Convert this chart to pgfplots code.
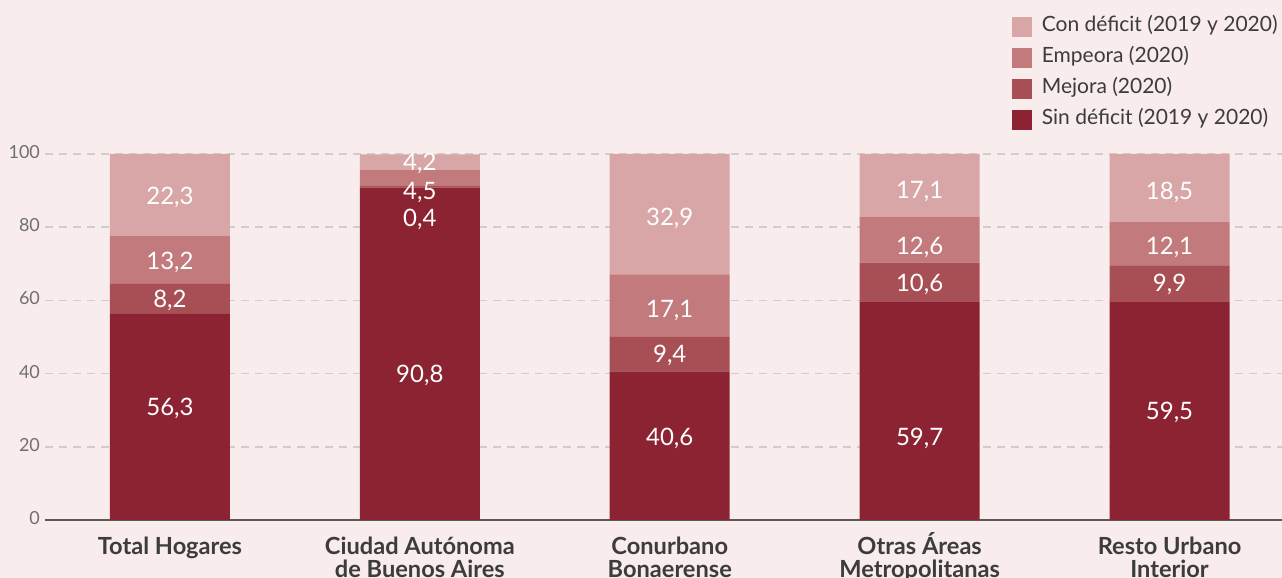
\documentclass[border=0pt]{standalone}
\usepackage{fontspec}
\setmainfont{Lato}
\usepackage{pgfplots}
\pgfplotsset{compat=1.18}
\definecolor{bg}{HTML}{F8ECEC}
\definecolor{sin}{HTML}{8B2332}
\definecolor{mej}{HTML}{A74F55}
\definecolor{emp}{HTML}{C27A7C}
\definecolor{con}{HTML}{D9A6A8}
\definecolor{txt}{HTML}{3C3C3C}
\definecolor{tickc}{HTML}{707070}
\definecolor{gridc}{HTML}{D2CDCD}
\tikzset{lbl/.style={text=white, font=\fontsize{12}{14}\selectfont}}
\newcommand{\xl}{\rule{0pt}{11.5pt}}

\begin{document}
\begin{tikzpicture}
\path[use as bounding box, fill=bg] (-22.5pt,-29pt) rectangle (618.5pt,260pt);
\begin{axis}[
    scale only axis, width=618.5pt, height=183pt,
    at={(0pt,0pt)}, anchor=south west,
    ybar stacked, bar width=60pt,
    xmin=-0.5, xmax=4.45, ymin=0, ymax=100,
    xtick=data,
    xticklabels={\xl Total Hogares, \xl Ciudad Autónoma\\de Buenos Aires, \xl Conurbano\\Bonaerense, \xl Otras Áreas\\Metropolitanas, \xl Resto Urbano\\Interior},
    x tick label style={align=center, font=\fontsize{11.8}{11.5}\selectfont\bfseries, text=txt, yshift=-2pt},
    ytick={0,20,...,100},
    y tick label style={font=\fontsize{9}{10}\selectfont, text=tickc, xshift=1pt, yshift=1pt},
    /pgf/number format/assume math mode=true,
    major tick length=0pt,
    axis x line*=bottom, axis y line*=left,
    x axis line style={draw=txt!85, line width=1pt},
    y axis line style={draw=none},
    ymajorgrids, grid style={gridc, line width=0.8pt, dash pattern=on 4pt off 3pt},
    legend style={at={(1,1)}, anchor=south east, yshift=9pt, xshift=2pt,
        draw=none, fill=none, font=\fontsize{10.5}{12}\selectfont, text=txt,
        row sep=3.5pt, nodes={inner sep=1pt, text height=7.5pt, text depth=2.5pt},
        /tikz/every odd column/.append style={column sep=4pt}},
    legend cell align=left, reverse legend,
    legend image code/.code={\path[#1, draw=none] (0pt,-5pt) rectangle (10pt,5pt);},
]
\addplot[fill=sin, draw=none] coordinates {(0,56.3) (1,90.8) (2,40.6) (3,59.7) (4,59.5)};
\addplot[fill=mej, draw=none] coordinates {(0,8.2) (1,0.4) (2,9.4) (3,10.6) (4,9.9)};
\addplot[fill=emp, draw=none] coordinates {(0,13.2) (1,4.5) (2,17.1) (3,12.6) (4,12.1)};
\addplot[fill=con, draw=none] coordinates {(0,22.3) (1,4.2) (2,32.9) (3,17.1) (4,18.5)};
\legend{Sin déficit (2019 y 2020), Mejora (2020), Empeora (2020), Con déficit (2019 y 2020)}
\coordinate (a1) at (axis cs:0,88.0);
\coordinate (a2) at (axis cs:0,70.5);
\coordinate (a3) at (axis cs:0,60.0);
\coordinate (a4) at (axis cs:0,30.5);
\coordinate (b1) at (axis cs:1,97.5);
\coordinate (b2) at (axis cs:1,89.5);
\coordinate (b3) at (axis cs:1,82.0);
\coordinate (b4) at (axis cs:1,39.4);
\coordinate (c1) at (axis cs:2,82.3);
\coordinate (c2) at (axis cs:2,57.2);
\coordinate (c3) at (axis cs:2,44.9);
\coordinate (c4) at (axis cs:2,22.2);
\coordinate (d1) at (axis cs:3,89.7);
\coordinate (d2) at (axis cs:3,74.6);
\coordinate (d3) at (axis cs:3,64.3);
\coordinate (d4) at (axis cs:3,22.2);
\coordinate (e1) at (axis cs:4,89.4);
\coordinate (e2) at (axis cs:4,74.6);
\coordinate (e3) at (axis cs:4,64.3);
\coordinate (e4) at (axis cs:4,29.5);
\end{axis}
\node[lbl] at (a1) {22,3};
\node[lbl] at (a2) {13,2};
\node[lbl] at (a3) {8,2};
\node[lbl] at (a4) {56,3};
\node[lbl] at (b1) {4,2};
\node[lbl] at (b2) {4,5};
\node[lbl] at (b3) {0,4};
\node[lbl] at (b4) {90,8};
\node[lbl] at (c1) {32,9};
\node[lbl] at (c2) {17,1};
\node[lbl] at (c3) {9,4};
\node[lbl] at (c4) {40,6};
\node[lbl] at (d1) {17,1};
\node[lbl] at (d2) {12,6};
\node[lbl] at (d3) {10,6};
\node[lbl] at (d4) {59,7};
\node[lbl] at (e1) {18,5};
\node[lbl] at (e2) {12,1};
\node[lbl] at (e3) {9,9};
\node[lbl] at (e4) {59,5};
\end{tikzpicture}
\end{document}
